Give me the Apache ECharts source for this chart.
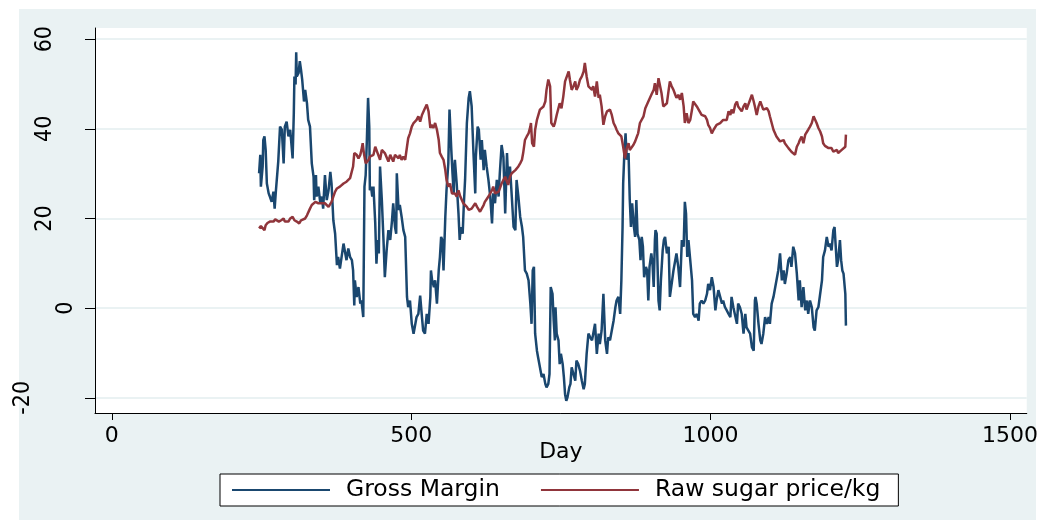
<!DOCTYPE html>
<html>
<head>
<meta charset="utf-8">
<script src="https://cdn.jsdelivr.net/npm/echarts@6/dist/echarts.min.js"></script>
<style>
  html, body { margin: 0; padding: 0; background: #ffffff; }
  #chart { width: 1041px; height: 522px; }
</style>
</head>
<body>
<div id="chart"></div>
<script>
// Daily gross margin and raw sugar price, [day, value]
const grossMargin = [
  [246,30.1],[248,34.2],[249,27.1],[252,31.6],[253,37.5],[255,38.3],[257,35.3],[259,27.8],[262,25.6],[264,24.9],
  [267,23.7],[270,26.0],[272,22.2],[274,26.0],[276,26.3],[278,32.7],[281,40.5],[284,39.8],[287,32.3],[289,40.5],
  [292,41.6],[295,38.3],[298,39.8],[302,33.4],[304,43.5],[305,51.7],[307,49.9],[308,57.1],[309,51.7],[312,52.5],
  [314,55.1],[316,53.2],[318,51.0],[321,46.1],[323,48.7],[326,45.7],[328,42.0],[331,40.5],[334,32.3],[337,29.3],
  [338,24.1],[341,29.7],[342,24.9],[345,27.1],[348,23.7],[351,24.9],[353,22.2],[356,29.7],[359,24.1],[362,26.3],
  [365,30.4],[367,27.8],[370,19.6],[373,16.6],[376,9.6],[378,11.4],[381,8.8],[384,8.4],[387,14.4],[390,12.2],
  [392,10.7],[395,13.3],[398,11.4],[401,10.7],[403,8.4],[405,0.6],[406,6.2],[409,2.5],[412,4.7],[415,1.0],
  [417,1.7],[420,-2.0],[422,27.1],[424,29.7],[426,37.5],[428,46.9],[430,40.5],[431,26.3],[433,27.1],[435,24.9],
  [437,27.1],[440,18.9],[442,9.9],[444,15.2],[446,12.2],[448,31.6],[451,24.1],[454,14.4],[456,6.9],[459,12.9],
  [462,17.4],[465,15.2],[468,19.6],[470,23.4],[473,18.1],[475,16.6],[476,30.1],[479,21.9],[481,23.0],[484,20.4],
  [487,17.4],[490,15.9],[493,2.5],[495,0.2],[498,1.7],[501,-3.5],[504,-5.7],[507,-5.7],[509,-2.0],[512,-1.3],
  [515,2.8],[518,-2.0],[520,-5.0],[523,-5.7],[526,-1.3],[529,-3.5],[532,2.5],[533,8.4],[535,6.2],[538,4.7],
  [540,6.2],[543,1.0],[546,8.4],[548,11.4],[550,15.9],[552,15.2],[554,8.4],[557,20.4],[559,26.3],[562,32.3],
  [564,44.3],[567,35.3],[569,30.1],[571,25.6],[572,31.6],[573,33.1],[576,27.8],[579,21.1],[581,15.2],[583,18.1],
  [586,16.6],[588,23.4],[590,28.6],[593,41.3],[596,46.9],[598,48.4],[601,45.0],[604,34.6],[607,25.6],[608,33.8],
  [611,40.5],[613,39.8],[616,33.1],[618,37.5],[621,30.8],[623,35.3],[626,31.6],[629,28.6],[632,24.9],[635,18.9],
  [637,25.6],[640,23.4],[643,28.6],[646,24.9],[648,30.1],[651,36.4],[654,33.8],[657,21.1],[660,34.6],[662,28.6],
  [665,31.6],[668,24.9],[671,18.1],[674,17.4],[676,28.6],[679,24.9],[682,20.4],[685,18.1],[687,15.9],[690,8.4],
  [693,7.7],[696,6.2],[699,1.0],[701,-3.5],[703,8.4],[705,9.2],[707,-5.7],[710,-9.5],[712,-11.0],[715,-13.2],
  [718,-15.4],[721,-14.7],[724,-16.9],[726,-17.7],[729,-16.9],[731,-14.7],[733,4.7],[736,3.2],[738,-2.8],[740,-7.2],
  [741,0.2],[743,-5.7],[746,-7.2],[748,-12.5],[750,-10.2],[753,-12.5],[755,-15.4],[757,-19.2],[759,-20.7],[761,-19.9],
  [764,-17.7],[766,-16.9],[768,-13.2],[771,-14.7],[774,-16.2],[776,-11.7],[779,-12.5],[782,-14.0],[785,-16.2],[788,-18.1],
  [790,-16.9],[793,-10.2],[796,-5.7],[799,-6.5],[802,-7.2],[804,-5.7],[807,-3.5],[810,-10.2],[813,-5.7],[815,-8.0],
  [818,-5.0],[821,3.2],[824,-7.2],[827,-10.2],[829,-6.5],[832,-7.2],[835,-5.0],[838,-2.8],[841,0.2],[843,1.7],
  [846,2.5],[849,-1.3],[851,6.2],[853,18.1],[854,27.8],[856,34.6],[858,39.0],[860,33.1],[863,34.6],[865,24.3],
  [867,18.1],[869,23.4],[872,18.1],[874,15.9],[876,24.1],[878,16.6],[881,15.2],[883,10.7],[885,15.9],[887,13.7],
  [889,6.9],[892,9.2],[894,8.4],[896,1.7],[898,9.2],[901,12.2],[903,9.9],[905,4.7],[907,15.2],[908,17.4],
  [910,16.6],[913,1.7],[915,-0.5],[917,6.2],[920,12.9],[922,15.2],[924,15.9],[927,12.2],[930,13.7],[932,2.5],
  [935,5.4],[938,8.4],[941,10.7],[943,12.2],[946,9.2],[949,4.7],[952,15.2],[955,13.7],[957,23.7],[959,21.1],
  [961,11.4],[963,15.2],[966,10.7],[969,6.2],[971,-1.3],[974,-2.0],[977,-1.3],[980,-2.8],[982,1.0],[985,1.7],
  [988,1.0],[991,1.7],[994,3.2],[996,5.4],[999,4.0],[1002,6.9],[1005,4.7],[1008,-0.5],[1010,1.7],[1013,4.0],
  [1016,4.0],[1019,1.0],[1021,1.7],[1024,0.2],[1027,-0.5],[1030,-1.3],[1033,-2.0],[1035,2.5],[1038,0.2],[1041,0.2],
  [1044,-3.5],[1046,1.0],[1049,0.2],[1052,-1.3],[1055,-5.7],[1058,-1.3],[1060,-4.3],[1063,-4.3],[1066,-5.7],[1069,-8.7],
  [1072,-9.5],[1074,1.7],[1075,2.5],[1077,1.0],[1080,-3.5],[1083,-7.2],[1085,-8.0],[1088,-5.7],[1091,-2.0],[1094,-3.5],
  [1097,-2.0],[1099,-3.5],[1102,1.0],[1105,2.5],[1108,4.7],[1110,4.7],[1113,8.4],[1116,12.2],[1119,6.2],[1122,8.4],
  [1124,5.4],[1127,7.7],[1130,10.7],[1133,11.4],[1135,9.2],[1138,13.7],[1141,12.2],[1144,7.7],[1147,1.7],[1149,6.2],
  [1152,0.2],[1155,4.7],[1158,-0.5],[1161,1.7],[1163,-1.3],[1166,1.7],[1169,0.2],[1172,-4.3],[1174,-5.0],[1177,-0.5],
  [1180,0.2],[1183,3.2],[1186,6.2],[1188,11.4],[1191,12.9],[1194,15.9],[1197,13.7],[1199,14.4],[1202,12.9],[1205,17.4],
  [1207,18.1],[1209,13.7],[1211,9.2],[1213,10.7],[1216,15.2],[1218,10.7],[1220,8.4],[1222,7.7],[1225,3.2],[1226,-3.9]
];

const sugarPrice = [
  [246,17.8],[249,18.3],[252,18.1],[255,17.4],[257,18.5],[260,19.0],[264,19.3],[267,19.6],[270,19.3],[273,19.8],
  [276,20.0],[279,19.3],[283,19.6],[287,20.0],[289,19.3],[292,19.6],[295,19.3],[298,20.0],[302,20.4],[305,19.6],
  [309,19.3],[313,18.9],[316,19.6],[319,20.0],[323,20.0],[326,20.7],[328,20.7],[331,22.2],[334,23.0],[337,23.4],
  [340,23.7],[342,23.5],[345,23.4],[348,23.7],[351,23.4],[353,23.7],[356,23.4],[359,23.0],[362,22.6],[365,22.6],
  [367,23.7],[370,24.9],[373,26.0],[376,26.7],[378,26.3],[381,27.1],[384,27.1],[387,27.8],[390,28.2],[392,28.2],
  [395,28.6],[398,29.0],[401,29.3],[403,31.6],[405,34.6],[406,34.6],[409,34.2],[412,33.4],[415,34.2],[417,35.3],
  [419,36.8],[421,34.6],[424,32.3],[426,32.3],[429,33.1],[431,33.8],[434,33.4],[437,34.2],[440,36.0],[443,35.7],
  [445,34.2],[448,33.1],[451,35.3],[454,35.3],[456,34.6],[459,34.9],[462,32.7],[465,34.2],[468,34.6],[470,32.7],
  [473,34.2],[476,33.8],[479,33.4],[481,34.2],[484,33.1],[487,33.8],[490,33.1],[493,36.0],[495,37.9],[498,39.0],
  [501,40.5],[504,41.3],[507,40.9],[509,42.0],[512,42.8],[515,41.6],[518,43.1],[520,43.5],[523,44.6],[526,45.4],
  [529,43.9],[532,40.2],[534,40.9],[537,40.2],[540,41.3],[543,39.8],[546,37.5],[548,34.6],[551,33.8],[554,33.1],
  [557,30.8],[559,28.6],[562,27.1],[565,27.8],[568,25.6],[571,26.0],[573,25.6],[576,24.9],[579,26.3],[582,24.9],
  [584,24.5],[587,23.4],[590,23.4],[593,22.6],[596,21.9],[598,21.5],[601,22.2],[604,21.9],[607,23.4],[610,22.6],
  [612,22.2],[615,21.5],[618,21.9],[621,23.0],[623,23.7],[626,24.3],[629,24.9],[632,25.2],[635,26.3],[637,27.1],
  [640,25.6],[643,26.0],[646,26.0],[648,26.7],[651,27.8],[654,28.6],[657,29.3],[660,28.2],[662,27.5],[665,29.3],
  [668,30.1],[671,30.4],[674,30.8],[676,31.2],[679,31.6],[682,32.3],[685,33.1],[687,34.6],[690,37.5],[693,38.3],
  [696,39.0],[699,40.5],[700,41.3],[702,36.8],[705,36.0],[707,39.8],[710,42.0],[712,42.4],[715,44.3],[718,44.6],
  [721,45.0],[724,46.1],[726,48.7],[729,51.0],[732,49.5],[734,41.3],[736,40.9],[738,40.5],[740,41.3],[743,43.1],
  [746,42.8],[748,45.7],[751,44.6],[754,47.2],[757,50.6],[760,51.7],[763,52.8],[765,51.0],[768,48.7],[771,49.5],
  [774,50.6],[776,48.7],[779,49.5],[782,51.0],[785,51.7],[788,52.8],[790,54.7],[793,51.7],[796,49.5],[799,49.1],
  [802,48.7],[804,49.5],[807,47.2],[810,50.6],[813,46.9],[815,47.6],[818,45.0],[821,40.9],[824,42.8],[827,43.9],
  [829,43.5],[832,44.3],[835,43.1],[838,41.3],[841,40.5],[843,39.8],[846,39.0],[849,39.4],[851,38.3],[854,36.0],
  [857,33.4],[860,35.7],[863,36.8],[865,35.3],[868,34.9],[871,36.4],[874,37.2],[877,38.3],[879,39.0],[882,41.3],
  [885,40.9],[888,42.8],[891,44.6],[893,45.0],[896,46.1],[899,45.7],[902,47.9],[905,48.7],[907,50.2],[910,47.6],
  [913,51.3],[916,51.0],[918,48.0],[921,45.0],[924,44.6],[927,45.7],[930,48.7],[932,50.6],[935,49.5],[938,48.7],
  [941,47.6],[943,46.9],[946,47.6],[949,46.5],[952,48.0],[955,45.0],[957,41.3],[960,43.5],[963,41.3],[966,42.0],
  [969,44.3],[971,46.1],[974,46.5],[977,45.0],[980,44.3],[982,43.9],[985,43.1],[988,42.8],[991,42.8],[994,42.0],
  [996,40.9],[999,40.2],[1002,39.0],[1005,39.8],[1008,40.2],[1010,40.9],[1013,40.5],[1016,41.3],[1019,41.6],[1021,42.0],
  [1024,42.4],[1027,42.0],[1030,43.9],[1033,43.1],[1035,44.3],[1038,43.5],[1041,45.4],[1044,46.1],[1046,45.0],[1049,45.4],
  [1052,43.9],[1055,45.0],[1058,45.7],[1060,44.3],[1063,45.4],[1066,46.5],[1069,47.6],[1072,46.1],[1074,45.0],[1077,43.1],
  [1080,45.0],[1083,46.1],[1085,45.7],[1088,44.3],[1091,43.9],[1094,44.6],[1097,43.9],[1099,42.8],[1102,41.3],[1105,39.8],
  [1108,39.4],[1110,38.3],[1113,37.9],[1116,37.2],[1119,36.8],[1122,37.5],[1124,36.8],[1127,37.2],[1130,35.7],[1133,35.3],
  [1135,34.9],[1138,34.6],[1141,34.2],[1144,36.0],[1147,36.8],[1149,37.5],[1152,38.3],[1155,36.8],[1158,38.7],[1161,39.0],
  [1163,39.8],[1166,40.5],[1169,41.3],[1172,42.8],[1174,42.4],[1177,41.3],[1180,40.2],[1183,39.4],[1186,38.3],[1188,36.8],
  [1191,36.2],[1194,36.4],[1197,35.7],[1199,36.0],[1202,35.7],[1205,34.9],[1208,35.3],[1211,35.3],[1213,34.6],[1216,34.2],
  [1219,35.3],[1222,35.3],[1225,36.0],[1226,38.7]
];

const xTicks = [0, 500, 1000, 1500];
const yTicks = [-20, 0, 20, 40, 60];
const seriesNames = ['Gross Margin', 'Raw sugar price/kg'];
const seriesColors = ['#1A476F', '#90353B'];

const FONT = '"DejaVu Sans", "Liberation Sans", sans-serif';
const FONT_NARROW = '"DejaVu Sans Condensed", "Liberation Sans Narrow", "DejaVu Sans", sans-serif';
const chart = echarts.init(document.getElementById('chart'), null, { renderer: 'canvas' });

// vertical tick labels sit at staggered distances from the axis
function yLabelStyle(v) {
  if (v === 0) return 'n0';
  if (v < 0) return 'n2';
  return 'n1';
}

const Y_LABEL_SIZE = 23;

chart.setOption({
  backgroundColor: '#ffffff',
  animation: false,
  graphic: [{
    type: 'rect',
    z: -100,
    silent: true,
    shape: { x: 19, y: 9, width: 1017, height: 511 },
    style: { fill: '#EAF2F3' }
  }],
  grid: {
    left: 95, top: 28, right: 14, bottom: 109,
    show: true, backgroundColor: '#ffffff', borderWidth: 0
  },
  xAxis: {
    type: 'value',
    min: -28, max: 1528,
    name: 'Day',
    nameLocation: 'middle',
    nameGap: 28,
    nameMoveOverlap: false,
    nameTextStyle: { fontFamily: FONT, fontSize: 22, color: '#000' },
    axisLine: { show: true, onZero: false, lineStyle: { color: '#000', width: 1 } },
    axisTick: { show: true, length: 7, customValues: xTicks, lineStyle: { color: '#000', width: 1 } },
    axisLabel: {
      customValues: xTicks, margin: 12,
      fontFamily: FONT, fontSize: 22, color: '#000',
      formatter: v => String(v)
    },
    splitLine: { show: false }
  },
  yAxis: {
    type: 'value',
    min: -23.4, max: 62.5,
    axisLine: { show: true, onZero: false, lineStyle: { color: '#000', width: 1 } },
    axisTick: { show: true, length: 10, customValues: yTicks, lineStyle: { color: '#000', width: 1 } },
    axisLabel: {
      customValues: yTicks,
      rotate: 90,
      margin: 17,
      fontFamily: FONT_NARROW, fontSize: Y_LABEL_SIZE, color: '#000',
      formatter: v => '{' + yLabelStyle(v) + '|' + v + '}',
      rich: {
        n0: { fontFamily: FONT_NARROW, fontSize: Y_LABEL_SIZE, padding: [0, 0, 0, 0] },
        n1: { fontFamily: FONT_NARROW, fontSize: Y_LABEL_SIZE, padding: [0, 0, 21, 0] },
        n2: { fontFamily: FONT_NARROW, fontSize: Y_LABEL_SIZE, padding: [0, 0, 43, 0] }
      }
    },
    splitLine: { show: true, lineStyle: { color: '#EAF2F3', width: 2 } }
  },
  legend: {
    data: seriesNames.map(n => ({ name: n, icon: 'rect' })),
    left: 220, top: 474,
    orient: 'horizontal',
    backgroundColor: '#ffffff',
    borderColor: '#000', borderWidth: 1, borderRadius: 0,
    padding: [4, 18, 4, 12],
    itemWidth: 98, itemHeight: 2,
    itemGap: 41,
    textStyle: { fontFamily: FONT, fontSize: 23.5, color: '#000', padding: [0, 0, 0, 11] }
  },
  series: seriesNames.map((name, i) => ({
    name,
    type: 'line',
    data: i === 0 ? grossMargin : sugarPrice,
    symbol: 'none',
    lineStyle: { color: seriesColors[i], width: 2.5 },
    itemStyle: { color: seriesColors[i] },
    z: 2 + i
  }))
});
</script>
</body>
</html>
